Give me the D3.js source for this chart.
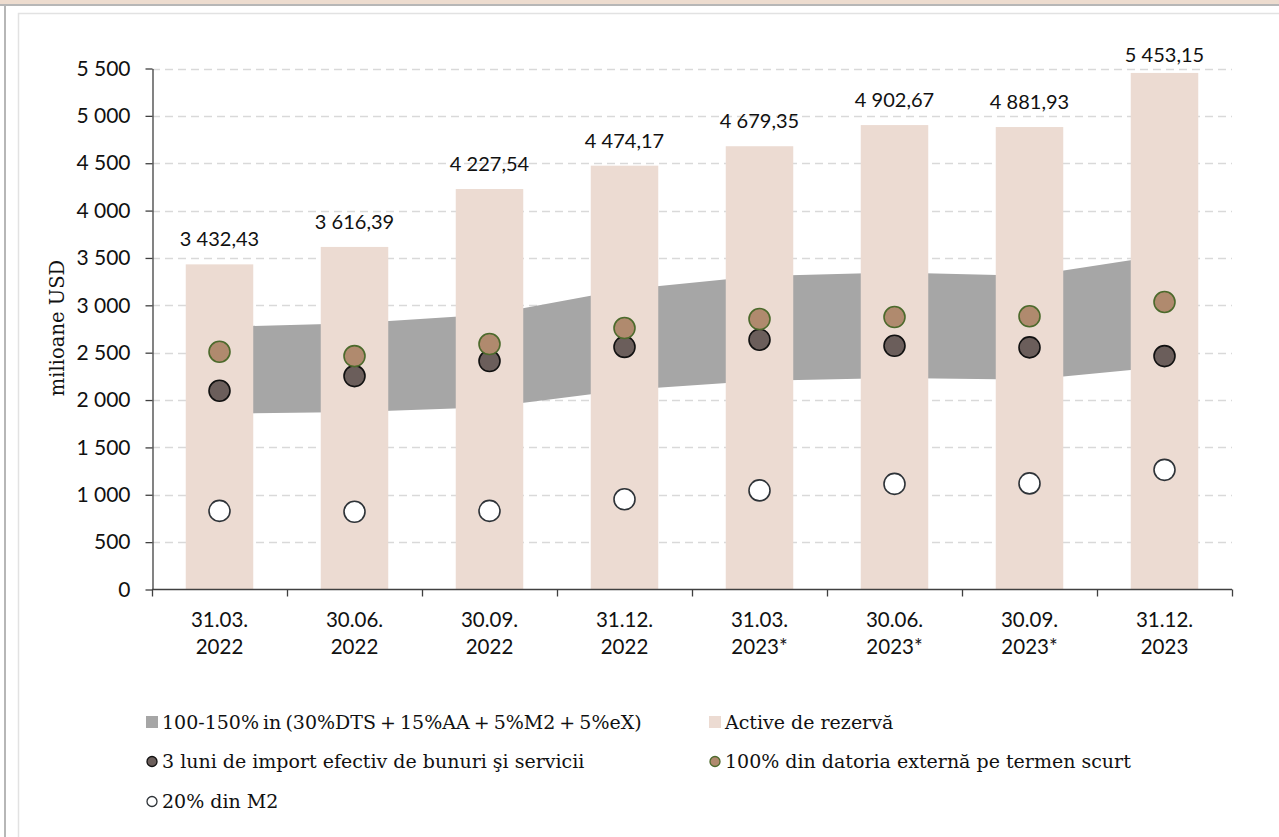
<!DOCTYPE html>
<html>
<head>
<meta charset="utf-8">
<script src="https://cdn.jsdelivr.net/npm/d3@7"></script>
<style>
  html, body { margin: 0; padding: 0; background: #fff; }
  svg { display: block; }
</style>
</head>
<body>
<div id="chart"></div>
<script>
// date
const categories = ["31.03.\n2022", "30.06.\n2022", "30.09.\n2022", "31.12.\n2022",
  "31.03.\n2023*", "30.06.\n2023*", "30.09.\n2023*", "31.12.\n2023"];
const reserves = [3432.43, 3616.39, 4227.54, 4474.17, 4679.35, 4902.67, 4881.93, 5453.15];
const bandLow = [1854, 1875, 1925, 2105, 2203, 2234, 2214, 2352];
const bandHigh = [2773, 2810, 2903, 3166, 3309, 3346, 3312, 3531];
const imports3m = [2098, 2253, 2412, 2561, 2637, 2573, 2556, 2464];
const shortDebt = [2510, 2464, 2591, 2760, 2855, 2876, 2884, 3035];
const m2Share = [830, 820, 830, 952, 1046, 1115, 1120, 1263];
const yTicks = [0, 500, 1000, 1500, 2000, 2500, 3000, 3500, 4000, 4500, 5000, 5500];

const width = 1279;
const height = 837;

const fmtLocale = d3.formatLocale({ decimal: ",", thousands: " ", grouping: [3], currency: ["", ""] });
const fmtTick = fmtLocale.format(",d");
const fmtLabel = fmtLocale.format(",.2f");

const sansFont = "Lato, 'Open Sans', sans-serif";
const serifFont = "'DejaVu Serif', serif";

const svg = d3.select("#chart")
  .append("svg")
  .attr("width", width)
  .attr("height", height);

// cadru
svg.append("rect").attr("x", 0).attr("y", 0).attr("width", width).attr("height", 4).attr("fill", "#eddccf");
svg.append("rect").attr("x", 0).attr("y", 4).attr("width", width).attr("height", 2).attr("fill", "#b7b7b7");
svg.append("rect").attr("x", 4).attr("y", 4).attr("width", 2).attr("height", height).attr("fill", "#b7b7b7");
svg.append("path")
  .attr("d", `M18.5,${height} V13.5 H${width}`)
  .attr("fill", "none")
  .attr("stroke", "#e2e2e2")
  .attr("stroke-width", 1.5);

// scale
const x = d3.scaleBand()
  .domain(categories)
  .range([152, 1232])
  .paddingInner(0.5)
  .paddingOuter(0.25);

const y = d3.scaleLinear()
  .domain([0, 5500])
  .range([589.5, 68.5]);

const cx = (d, i) => x(categories[i]) + x.bandwidth() / 2;

// grila
svg.append("g")
  .selectAll("line")
  .data(yTicks.filter(d => d > 0))
  .join("line")
  .attr("x1", 152)
  .attr("x2", 1232)
  .attr("y1", d => Math.round(y(d)) + 0.5)
  .attr("y2", d => Math.round(y(d)) + 0.5)
  .attr("stroke", "#d9d9d9")
  .attr("stroke-width", 1.3)
  .attr("stroke-dasharray", "8,5");

// banda 100-150%
const area = d3.area()
  .x((d, i) => cx(d, i))
  .y0(d => y(d[0]))
  .y1(d => y(d[1]));

svg.append("path")
  .datum(bandLow.map((v, i) => [v, bandHigh[i]]))
  .attr("d", area)
  .attr("fill", "#a6a6a6");

// bare
svg.append("g")
  .selectAll("rect")
  .data(reserves)
  .join("rect")
  .attr("x", (d, i) => x(categories[i]))
  .attr("y", d => y(d))
  .attr("width", x.bandwidth())
  .attr("height", d => y(0) - y(d))
  .attr("fill", "#ecdbd2");

svg.append("g")
  .selectAll("text")
  .data(reserves)
  .join("text")
  .attr("x", (d, i) => cx(d, i))
  .attr("y", d => Math.max(y(d) - 18, 62))
  .attr("text-anchor", "middle")
  .attr("font-family", sansFont)
  .attr("font-size", 20)
  .attr("fill", "#111")
  .text(d => fmtLabel(d));

// puncte
function dots(values, fill, stroke) {
  svg.append("g")
    .selectAll("circle")
    .data(values)
    .join("circle")
    .attr("cx", (d, i) => cx(d, i))
    .attr("cy", d => y(d))
    .attr("r", 10.5)
    .attr("fill", fill)
    .attr("stroke", stroke)
    .attr("stroke-width", 1.6);
}
dots(m2Share, "#ffffff", "#2e3338");
dots(imports3m, "#6b5e5b", "#111111");
dots(shortDebt, "#b08a6e", "#4c6a2c");

// axa Y
const yAxis = svg.append("g")
  .attr("transform", "translate(152.5,0)")
  .call(d3.axisLeft(y).tickValues(yTicks).tickFormat(fmtTick).tickSize(7).tickSizeOuter(0).tickPadding(15));
yAxis.select(".domain").attr("stroke", "#404040").attr("stroke-width", 1.3);
yAxis.selectAll(".tick line").attr("stroke", "#404040").attr("stroke-width", 1.3);
yAxis.selectAll(".tick text")
  .attr("font-family", sansFont)
  .attr("font-size", 21)
  .attr("fill", "#111");

// axa X
const xAxisG = svg.append("g");
xAxisG.append("line")
  .attr("x1", 152).attr("x2", 1232)
  .attr("y1", y(0)).attr("y2", y(0))
  .attr("stroke", "#404040").attr("stroke-width", 1.3);
xAxisG.selectAll(".xtick")
  .data(d3.range(categories.length + 1))
  .join("line")
  .attr("class", "xtick")
  .attr("x1", i => Math.round(152 + i * x.step()) + 0.5)
  .attr("x2", i => Math.round(152 + i * x.step()) + 0.5)
  .attr("y1", y(0))
  .attr("y2", y(0) + 7)
  .attr("stroke", "#404040").attr("stroke-width", 1.3);

const xLabels = xAxisG.selectAll(".xlabel")
  .data(categories)
  .join("text")
  .attr("class", "xlabel")
  .attr("text-anchor", "middle")
  .attr("font-family", sansFont)
  .attr("font-size", 20.5)
  .attr("fill", "#111");
xLabels.each(function(d, i) {
  const parts = d.split("\n");
  d3.select(this).selectAll("tspan")
    .data(parts)
    .join("tspan")
    .attr("x", cx(d, i))
    .attr("y", (p, j) => 627 + j * 26.5)
    .text(p => p);
});

// titlu axa Y
svg.append("text")
  .attr("transform", "translate(64,328) rotate(-90)")
  .attr("text-anchor", "middle")
  .attr("font-family", serifFont)
  .attr("font-size", 19.5)
  .attr("fill", "#111")
  .text("milioane USD");

// legenda
const legendItems = [
  { label: "100-150% in (30%DTS + 15%AA + 5%M2 + 5%eX)", type: "rect", fill: "#a6a6a6", stroke: "none", col: 0, row: 0 },
  { label: "Active de rezervă", type: "rect", fill: "#ecdbd2", stroke: "none", col: 1, row: 0 },
  { label: "3 luni de import efectiv de bunuri şi servicii", type: "circle", fill: "#6b5e5b", stroke: "#111111", col: 0, row: 1 },
  { label: "100% din datoria externă pe termen scurt", type: "circle", fill: "#b08a6e", stroke: "#4c6a2c", col: 1, row: 1 },
  { label: "20% din M2", type: "circle", fill: "#ffffff", stroke: "#2e3338", col: 0, row: 2 }
];
const colX = [146, 709];
const rowY = [729, 768, 808];

const legend = svg.append("g");
legendItems.forEach(item => {
  const g = legend.append("g")
    .attr("transform", `translate(${colX[item.col]},${rowY[item.row]})`);
  if (item.type === "rect") {
    g.append("rect").attr("x", 0).attr("y", -13).attr("width", 12).attr("height", 12).attr("fill", item.fill);
  } else {
    g.append("circle").attr("cx", 6).attr("cy", -6.5).attr("r", 5).attr("fill", item.fill)
      .attr("stroke", item.stroke).attr("stroke-width", 1.3);
  }
  g.append("text")
    .attr("x", 16)
    .attr("y", 0)
    .attr("font-family", serifFont)
    .attr("font-size", 19)
    .attr("word-spacing", item.row === 0 && item.col === 0 ? -2 : 0)
    .attr("fill", "#111")
    .text(item.label);
});
</script>
</body>
</html>
